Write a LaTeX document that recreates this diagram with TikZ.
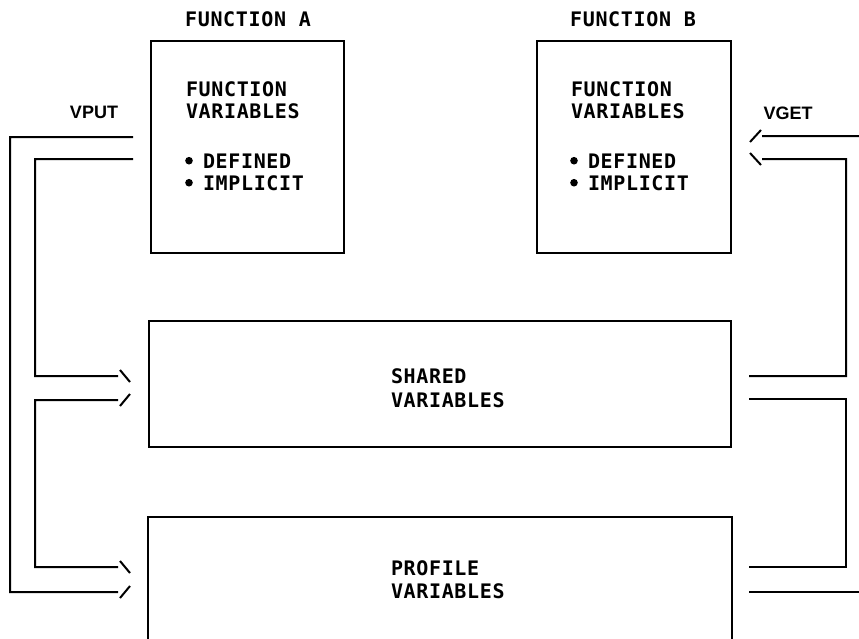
\documentclass[tikz,border=0pt]{standalone}
\usepackage{fontspec}
\newfontfamily\printfont{DejaVu Sans Mono}[LetterSpace=3.3]
\newfontfamily\labelfont{Liberation Sans}
\begin{document}
\begin{tikzpicture}[x=1pt,y=-1pt, line width=2pt,
  every node/.style={inner sep=0pt, font=\printfont\bfseries\fontsize{20}{24}\selectfont},
  box/.style={draw, minimum width=#1},
  tag/.style={font=\labelfont\bfseries\fontsize{18}{18}\selectfont}]
  \useasboundingbox (0,0) rectangle (859,638);

  % the four boxes
  \node[box=193, minimum height=212] (fa) at (247.5,147) {};
  \node[box=194, minimum height=212] (fb) at (634,147) {};
  \node[box=582, minimum height=126] (shared) at (440,384) {};
  \node[minimum width=582, minimum height=120] (profile) at (440,578) {};
  \draw (profile.south west) |- (profile.north east) -- (profile.south east);

  % titles and contents
  \node[anchor=base] (atitle) at (248,26.5) {FUNCTION A};
  \node[anchor=base] (btitle) at (633,26.5) {FUNCTION B};
  \node[anchor=base west] (aline1) at (185,96) {FUNCTION};
  \node[anchor=base west] (aline2) at (185,118) {VARIABLES};
  \node[anchor=base west] (aline3) at (202,168) {DEFINED};
  \node[anchor=base west] (aline4) at (202,190) {IMPLICIT};
  \node[anchor=base west] (bline1) at (570,96) {FUNCTION};
  \node[anchor=base west] (bline2) at (570,118) {VARIABLES};
  \node[anchor=base west] (bline3) at (587,168) {DEFINED};
  \node[anchor=base west] (bline4) at (587,190) {IMPLICIT};
  \node[anchor=base west] (sline1) at (390,383.5) {SHARED};
  \node[anchor=base west] (sline2) at (390,407) {VARIABLES};
  \node[anchor=base west] (pline1) at (390,575) {PROFILE};
  \node[anchor=base west] (pline2) at (390,598) {VARIABLES};

  % list bullets
  \foreach \l in {aline3,aline4,bline3,bline4}
    \fill ([xshift=-13pt]\l.west) circle (3.8);

  \node[tag, anchor=base] (vput) at (94,118) {VPUT};
  \node[tag, anchor=base] (vget) at (788,119) {VGET};

  % VPUT side
  \coordinate (aouter) at (133,137);
  \coordinate (ainner) at (133,159);
  \coordinate (sin) at (118,376);
  \coordinate (sout) at (118,400);
  \coordinate (pin) at (118,567);
  \coordinate (pouter) at (118,592);
  \draw (aouter) -- ++(-123,0) |- (pouter) ++(2,6) -- ++(10,-12);
  \draw (ainner) -- ++(-98,0) |- (sin) ++(2,-6) -- ++(10,12);
  \draw (sout) ++(2,6) -- ++(10,-12) (sout) -- ++(-83,0) |- (pin) ++(2,-6) -- ++(10,12);

  % VGET side
  \coordinate (bouter) at (762,136);
  \coordinate (binner) at (762,159);
  \coordinate (sback) at (749,376);
  \coordinate (sfwd) at (749,399);
  \coordinate (pback) at (749,567);
  \coordinate (pfwd) at (749,592);
  \draw (bouter) ++(-12,6) -- ++(11,-12) (bouter) -- ++(97,0);
  \draw (binner) ++(-12,-6) -- ++(11,12) (binner) -- ++(84,0) |- (sback);
  \draw (sfwd) -- ++(97,0) |- (pback);
  \draw (pfwd) -- ++(110,0);
\end{tikzpicture}
\end{document}
